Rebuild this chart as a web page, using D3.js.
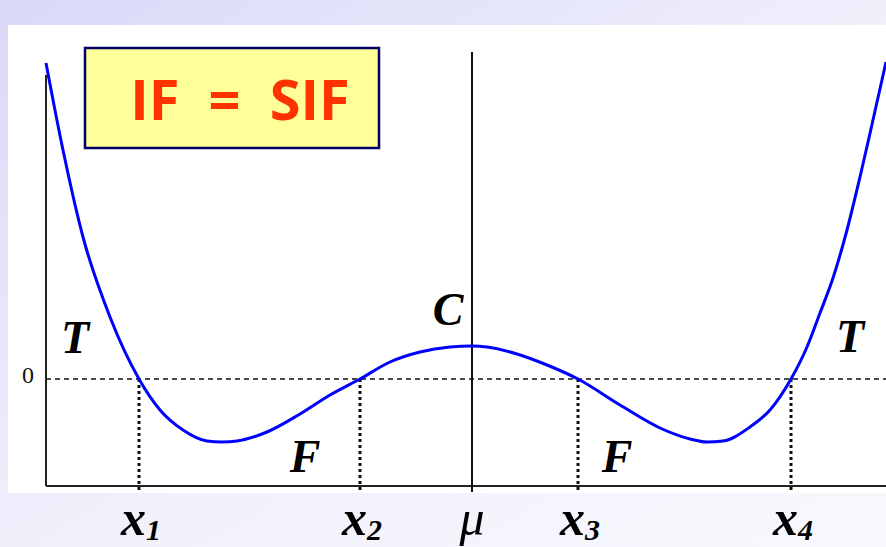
<!DOCTYPE html>
<html>
<head>
<meta charset="utf-8">
<script src="https://cdn.jsdelivr.net/npm/d3@7/dist/d3.min.js"></script>
<style>
  html, body { margin: 0; padding: 0; background: #fff; }
  svg { display: block; }
</style>
</head>
<body>
<svg id="chart" width="886" height="547"></svg>
<script>
// Potential-like curve with four zero crossings, symmetric about mu.
// Values, in arbitrary units (mu = 0, zero line = 0).
var curveX = [-4.26, -4.09, -3.89, -3.62, -3.33, -3.12, -2.89, -2.65, -2.50, -2.35,
              -2.05, -1.72, -1.42, -1.12, -0.82, -0.52, -0.22, 0.00, 0.15, 0.45, 0.75, 1.06,
              1.48, 1.88, 2.18, 2.35, 2.51, 2.78, 2.98, 3.19, 3.35, 3.48, 3.61, 3.75, 3.88, 4.01, 4.14];
var curveY = [31.6, 22.9, 14.2, 6.2, 0.0, -3.1, -5.1, -6.2, -6.3, -6.2,
              -5.3, -3.5, -1.6, 0.0, 1.7, 2.7, 3.2, 3.3, 3.2, 2.5, 1.4, 0.0,
              -2.6, -4.9, -6.0, -6.3, -6.2, -4.8, -3.1, 0.0, 3.2, 6.6, 10.1, 14.9, 20.2, 25.9, 31.7];

var rootX = [-3.33, -1.12, 1.06, 3.19];
var rootSub = ['1', '2', '3', '4'];

var regionText = ['T', 'C', 'F', 'F', 'T'];
var regionX = [-3.97, -0.24, -1.67, 1.45, 3.78];
var regionY = [2.6, 5.4, -9.3, -9.3, 2.7];

var X_DOMAIN = [-4.26, 4.14];
var Y_DOMAIN = [-10.7, 31.7];
var TITLE = 'IF  =  SIF';

var svg = d3.select('#chart');
var W = 886, H = 547;

var x = d3.scaleLinear().domain(X_DOMAIN).range([46, 886]);
var y = d3.scaleLinear().domain(Y_DOMAIN).range([486, 62]);

// slide background + white panel
var defs = svg.append('defs');
var grad = defs.append('linearGradient').attr('id', 'bg')
    .attr('x1', '0').attr('y1', '0').attr('x2', '1').attr('y2', '1');
grad.append('stop').attr('offset', '0%').attr('stop-color', '#d9d9f8');
grad.append('stop').attr('offset', '55%').attr('stop-color', '#f1f1fc');
grad.append('stop').attr('offset', '100%').attr('stop-color', '#f8f8fe');
svg.append('rect').attr('width', W).attr('height', H).attr('fill', 'url(#bg)');
svg.append('rect').attr('x', 8).attr('y', 25).attr('width', W - 8).attr('height', 468).attr('fill', '#fff');

var g = svg.append('g');

// zero line (dashed)
g.append('line')
    .attr('x1', x(X_DOMAIN[0])).attr('x2', x(X_DOMAIN[1]))
    .attr('y1', y(0)).attr('y2', y(0))
    .attr('stroke', '#111').attr('stroke-width', 1.4)
    .attr('stroke-dasharray', '5,4');

// dotted drops from each root to below the axis
g.selectAll('.drop').data(rootX).enter().append('line')
    .attr('class', 'drop')
    .attr('x1', function (d) { return x(d); }).attr('x2', function (d) { return x(d); })
    .attr('y1', y(0)).attr('y2', y(Y_DOMAIN[0]) + 7)
    .attr('stroke', '#111').attr('stroke-width', 3)
    .attr('stroke-dasharray', '3,3');

// axes
g.append('line')
    .attr('x1', x(X_DOMAIN[0])).attr('x2', x(X_DOMAIN[1]))
    .attr('y1', y(Y_DOMAIN[0])).attr('y2', y(Y_DOMAIN[0]))
    .attr('stroke', '#222').attr('stroke-width', 2);
g.append('line')
    .attr('x1', x(X_DOMAIN[0])).attr('x2', x(X_DOMAIN[0]))
    .attr('y1', y(30.4)).attr('y2', y(Y_DOMAIN[0]))
    .attr('stroke', '#222').attr('stroke-width', 2);
// vertical line at mu
g.append('line')
    .attr('x1', x(0)).attr('x2', x(0))
    .attr('y1', y(32.7)).attr('y2', y(Y_DOMAIN[0]) + 6)
    .attr('stroke', '#111').attr('stroke-width', 2);

// curve
var pts = curveX.map(function (d, i) { return [d, curveY[i]]; });
g.append('path').datum(pts)
    .attr('fill', 'none').attr('stroke', '#0000ff').attr('stroke-width', 3)
    .attr('d', d3.line()
        .x(function (d) { return x(d[0]); })
        .y(function (d) { return y(d[1]); })
        .curve(d3.curveMonotoneX));

// "0" tick label
g.append('text')
    .attr('x', 28).attr('y', y(0) + 4)
    .attr('text-anchor', 'middle')
    .attr('font-family', "'Liberation Serif', 'Times New Roman', serif")
    .attr('font-size', 24).attr('fill', '#111')
    .text('0');

// region letters
g.selectAll('.region').data(regionText).enter().append('text')
    .attr('class', 'region')
    .attr('x', function (d, i) { return x(regionX[i]); })
    .attr('y', function (d, i) { return y(regionY[i]); })
    .attr('text-anchor', 'middle')
    .attr('font-family', "'Liberation Serif', 'Times New Roman', serif")
    .attr('font-style', 'italic').attr('font-weight', 'bold')
    .attr('font-size', 46).attr('fill', '#000')
    .text(function (d) { return d; });

// x labels: x_i under each root, mu in the middle
var xl = g.selectAll('.xlab').data(rootX).enter().append('text')
    .attr('class', 'xlab')
    .attr('x', function (d) { return x(d) + 2; })
    .attr('y', 535)
    .attr('text-anchor', 'middle')
    .attr('font-family', "'Liberation Serif', 'Times New Roman', serif")
    .attr('font-style', 'italic').attr('font-weight', 'bold')
    .attr('fill', '#000');
xl.append('tspan').attr('font-size', 50).text('x');
xl.append('tspan').attr('font-size', 30).attr('dy', 5)
    .text(function (d, i) { return rootSub[i]; });

g.append('text')
    .attr('x', x(0)).attr('y', 535)
    .attr('text-anchor', 'middle')
    .attr('font-family', "'Liberation Serif', 'Times New Roman', serif")
    .attr('font-style', 'italic')
    .attr('font-size', 50).attr('fill', '#000')
    .text('\u03bc');

// title box
g.append('rect')
    .attr('x', 85).attr('y', 48).attr('width', 294).attr('height', 100)
    .attr('fill', '#ffff99').attr('stroke', '#000066').attr('stroke-width', 2.5);
g.append('text')
    .attr('x', 240).attr('y', 120)
    .attr('text-anchor', 'middle')
    .attr('font-family', "'Open Sans', 'Noto Sans', sans-serif")
    .attr('font-weight', 'bold')
    .attr('font-size', 56).attr('fill', '#ff3300')
    .attr('xml:space', 'preserve')
    .style('white-space', 'pre')
    .text(TITLE);
</script>
</body>
</html>
